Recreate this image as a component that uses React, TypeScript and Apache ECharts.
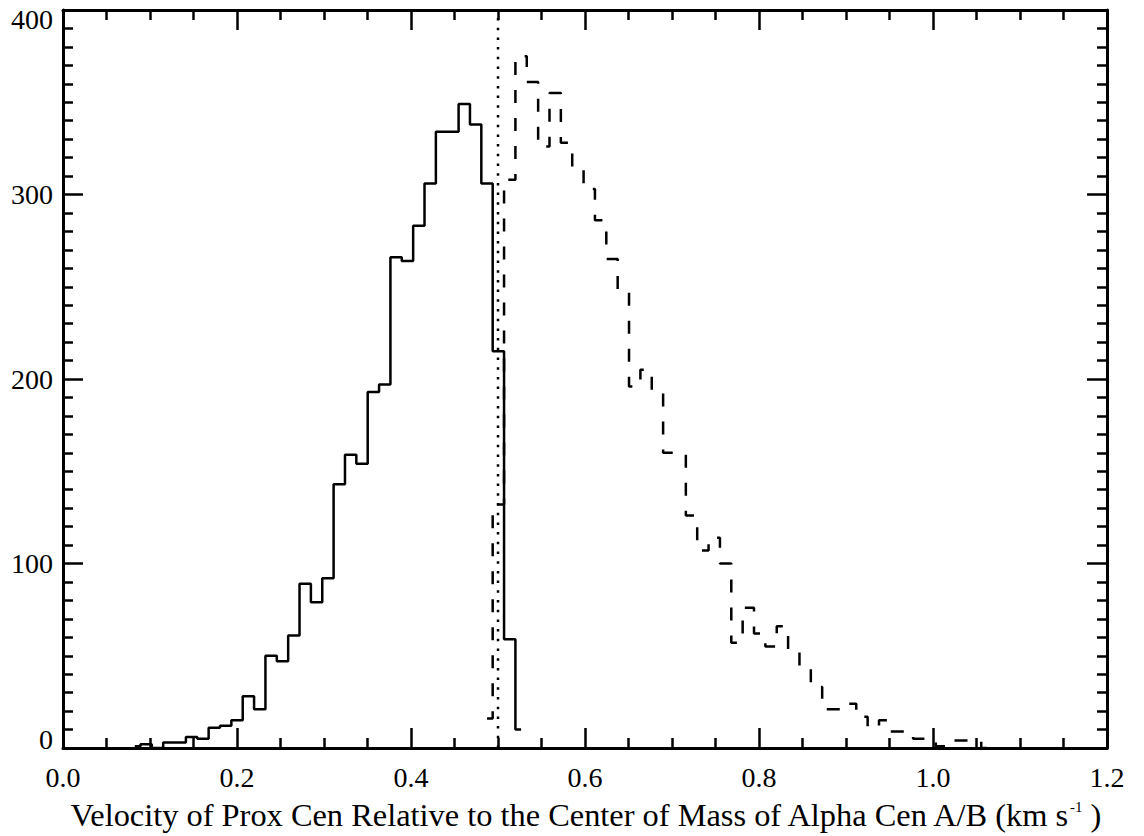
import React, { useEffect, useRef } from "react";
import * as echarts from "echarts";

// ---- axis ranges / ticks ----
const X_MIN = 0;
const X_MAX = 1.2;
const X_INTERVAL = 0.2;
const Y_MIN = 0;
const Y_MAX = 400;
const Y_INTERVAL = 100;

// ---- histogram bins (shared grid) ----
const BIN_WIDTH = 0.01306;
const FIRST_BIN_CENTER = 0.0825;
const SOLID_FIRST_BIN = 0;
const DASHED_FIRST_BIN = 31;

// counts of the solid histogram (bins 0..34)
const solidCounts = [
  1, 2, 0, 3, 3, 6, 5, 11, 12, 15, 28, 21, 50, 47, 61, 89, 79, 92, 143, 159,
  154, 193, 197, 266, 264, 283, 306, 334, 334, 349, 338, 306, 215, 59, 10,
];

// counts of the dashed histogram (bins 31..75)
const dashedCounts = [
  16, 132, 308, 375, 361, 326, 355, 328, 315, 303, 286, 265, 248, 196, 205,
  193, 160, 160, 126, 107, 114, 100, 57, 76, 62, 55, 66, 52, 43, 33, 21, 21,
  24, 17, 11, 15, 9, 9, 5, 4, 1, 4, 4, 4, 0,
];

// dotted divider
const DIVIDER_X = 0.5;

const X_TITLE_MAIN =
  "Velocity of Prox Cen Relative to the Center of Mass of Alpha Cen A/B (km s";
const X_TITLE_SUP = "-1";
const X_TITLE_END = " )";

const FONT = "'Liberation Serif', 'Times New Roman', serif";
const LABEL_SIZE = 28;
const TITLE_SIZE = 32.4;

export default function App() {
  const ref = useRef<HTMLDivElement>(null);

  useEffect(() => {
    if (!ref.current) return;
    const chart = echarts.init(ref.current, undefined, { renderer: "svg" });

    const toPoints = (counts: number[], first: number) =>
      counts.map((c, i) => [FIRST_BIN_CENTER + (first + i) * BIN_WIDTH, c]);

    const tickCommon = {
      axisLine: { show: true, onZero: false, lineStyle: { color: "#000", width: 3 } },
      axisTick: { show: true, inside: true, length: 20, lineStyle: { color: "#000", width: 2.5 } },
      splitLine: { show: false },
      minorSplitLine: { show: false },
    };

    const labelRich = {
      t: { fontFamily: FONT, fontSize: LABEL_SIZE, color: "#000", lineHeight: 28 },
      e: { fontFamily: FONT, fontSize: LABEL_SIZE, color: "#000", lineHeight: 18 },
    };

    const xBase = {
      type: "value",
      min: X_MIN,
      max: X_MAX,
      interval: X_INTERVAL,
      ...tickCommon,
      minorTick: { show: true, splitNumber: 4, length: 10, lineStyle: { color: "#000", width: 2.5 } },
    };
    const yBase = {
      type: "value",
      min: Y_MIN,
      max: Y_MAX,
      interval: Y_INTERVAL,
      ...tickCommon,
      minorTick: { show: true, splitNumber: 10, length: 10, lineStyle: { color: "#000", width: 2.5 } },
    };

    chart.setOption({
      animation: false,
      backgroundColor: "#fff",
      textStyle: { fontFamily: FONT, color: "#000" },
      grid: { left: 63, right: 37, top: 10, bottom: 84, containLabel: false },
      xAxis: [
        {
          ...xBase,
          position: "bottom",
          axisLabel: {
            show: true,
            color: "#000",
            fontFamily: FONT,
            fontSize: LABEL_SIZE,
            margin: 15,
            formatter: (v: number) => `{t|${v.toFixed(1)}}`,
            rich: labelRich,
          },
          name: `{a|${X_TITLE_MAIN}}{s|${X_TITLE_SUP}}{a|${X_TITLE_END}}`,
          nameLocation: "middle",
          nameGap: 51,
          nameTextStyle: {
            color: "#000",
            fontFamily: FONT,
            fontSize: TITLE_SIZE,
            rich: {
              a: { fontFamily: FONT, fontSize: TITLE_SIZE, color: "#000" },
              s: { fontFamily: FONT, fontSize: 15, color: "#000", verticalAlign: "top" },
            },
          },
        },
        { ...xBase, position: "top", axisLabel: { show: false } },
      ],
      yAxis: [
        {
          ...yBase,
          position: "left",
          axisLabel: {
            show: true,
            color: "#000",
            fontFamily: FONT,
            fontSize: LABEL_SIZE,
            margin: 10,
            formatter: (v: number) =>
              v === Y_MIN || v === Y_MAX ? `{e|${v}}` : `{t|${v}}`,
            rich: labelRich,
            verticalAlignMinLabel: "bottom",
            verticalAlignMaxLabel: "top",
          },
        },
        { ...yBase, position: "right", axisLabel: { show: false } },
      ],
      series: [
        {
          type: "line",
          step: "middle",
          data: toPoints(solidCounts, SOLID_FIRST_BIN),
          symbol: "none",
          lineStyle: { color: "#000", width: 2.5 },
          z: 3,
        },
        {
          type: "line",
          step: "middle",
          data: toPoints(dashedCounts, DASHED_FIRST_BIN),
          symbol: "none",
          lineStyle: { color: "#000", width: 2.5, type: [13, 15] },
          z: 3,
        },
        {
          type: "line",
          data: [
            [DIVIDER_X, Y_MIN],
            [DIVIDER_X, Y_MAX],
          ],
          symbol: "none",
          lineStyle: { color: "#000", width: 2.5, type: [2.5, 7.2] },
          z: 2,
        },
      ],
    });

    return () => chart.dispose();
  }, []);

  return (
    <div
      ref={ref}
      style={{ position: "fixed", left: 0, top: 0, width: 1144, height: 836, background: "#fff" }}
    />
  );
}
